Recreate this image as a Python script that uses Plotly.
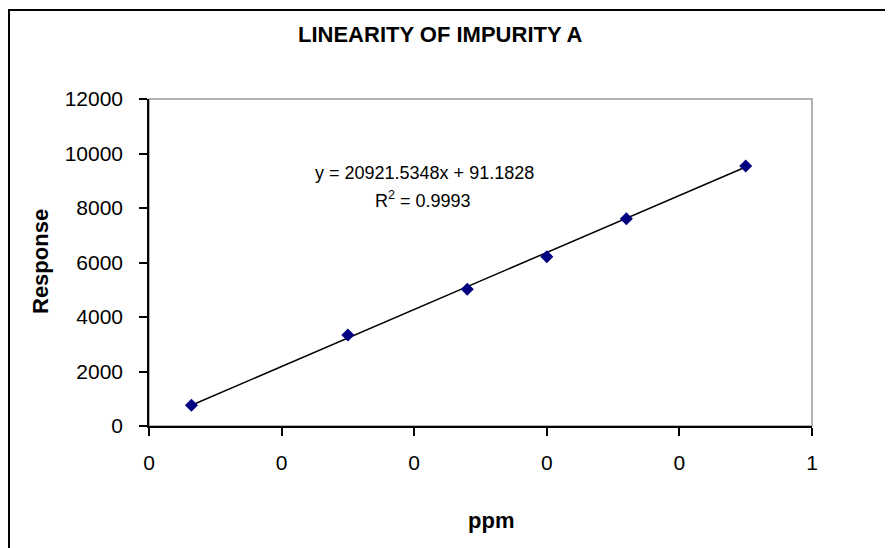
import numpy as np
import plotly.graph_objects as go

# data
ppm = [0.032, 0.15, 0.24, 0.30, 0.36, 0.45]
response = [760, 3340, 5020, 6215, 7605, 9540]

x_tickvals = [0, 0.1, 0.2, 0.3, 0.4, 0.5]
x_ticktext = ["0", "0", "0", "0", "0", "1"]
y_tickvals = [0, 2000, 4000, 6000, 8000, 10000, 12000]

slope = 20921.5348
intercept = 91.1828
r2 = 0.9993

W, H = 893, 548
OFF = 8  # page body margin
L, R, T, B = 149, 812, 99, 426  # plot area in screen pixels


def px_x(p):
    return (p - L) / (R - L)


def px_y(p):
    return (B - p) / (B - T)


FONT = "Liberation Sans, Arial, sans-serif"

x_fit = np.array([min(ppm), max(ppm)])
y_fit = slope * x_fit + intercept

fig = go.Figure()

fig.add_trace(go.Scatter(
    x=x_fit, y=y_fit, mode="lines",
    line=dict(color="black", width=1.5),
    showlegend=False, hoverinfo="skip",
))

fig.add_trace(go.Scatter(
    x=ppm, y=response, mode="markers",
    marker=dict(symbol="diamond", size=10, color="#000080",
                line=dict(color="#000080", width=0)),
    showlegend=False,
))

fig.update_layout(
    width=W - OFF, height=H - OFF,
    margin=dict(l=L - OFF, r=W - R, t=T - OFF, b=H - B),
    paper_bgcolor="white", plot_bgcolor="white",
    font=dict(family=FONT, size=21, color="black"),
    xaxis=dict(
        range=[0, 0.5], tickvals=x_tickvals, ticktext=x_ticktext,
        showgrid=False, zeroline=False,
        showline=True, linecolor="black", linewidth=1.5,
        ticks="outside", ticklen=8, tickcolor="black", tickwidth=1.5,
        tickfont=dict(size=21), ticklabelstandoff=9,
    ),
    yaxis=dict(
        range=[0, 12000], tickvals=y_tickvals, tickformat="d",
        showgrid=False, zeroline=False,
        showline=True, linecolor="black", linewidth=1.5,
        ticks="outside", ticklen=8, tickcolor="black", tickwidth=1.5,
        tickfont=dict(size=21), ticklabelstandoff=12,
    ),
    shapes=[
        # plot area frame (grey top/right)
        dict(type="rect", xref="x domain", yref="y domain",
             x0=0, x1=1, y0=0, y1=1, layer="below",
             line=dict(color="#999999", width=1.5)),
        # chart border
        dict(type="rect", xref="paper", yref="paper",
             x0=px_x(9), x1=px_x(905), y0=px_y(560), y1=px_y(10),
             line=dict(color="black", width=2)),
    ],
    annotations=[
        dict(text="<b>LINEARITY OF IMPURITY A</b>", xref="paper", yref="paper",
             x=px_x(440), y=px_y(35), showarrow=False,
             font=dict(size=22), xanchor="center", yanchor="middle"),
        dict(text="<b>Response</b>", xref="paper", yref="paper",
             x=px_x(40), y=px_y(262), showarrow=False, textangle=-90,
             font=dict(size=22), xanchor="center", yanchor="middle"),
        dict(text="<b>ppm</b>", xref="paper", yref="paper",
             x=px_x(491), y=px_y(520), showarrow=False,
             font=dict(size=22), xanchor="center", yanchor="middle"),
        dict(text=f"y = {slope:.4f}x + {intercept:.4f}", xref="paper", yref="paper",
             x=px_x(424), y=px_y(173), showarrow=False,
             font=dict(size=18), xanchor="center", yanchor="middle"),
        dict(text=f"R<sup>2</sup> = {r2:.4f}", xref="paper", yref="paper",
             x=px_x(423), y=px_y(199), showarrow=False,
             font=dict(size=18), xanchor="center", yanchor="middle"),
    ],
)

fig.write_html("out.html")
